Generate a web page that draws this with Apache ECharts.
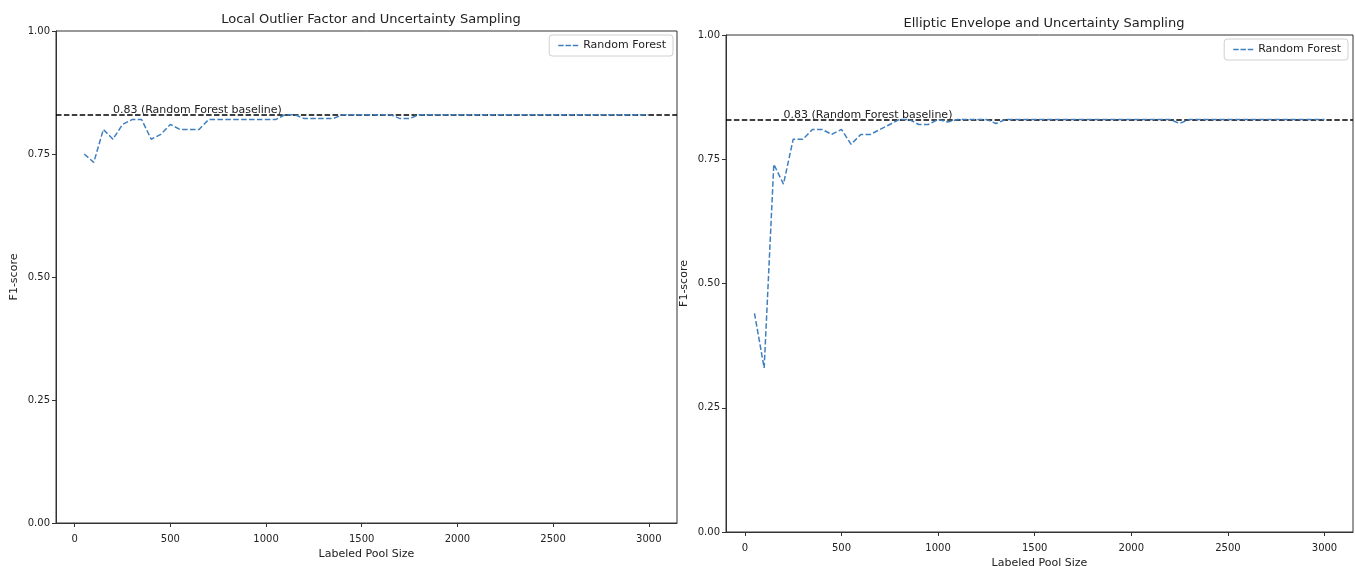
<!DOCTYPE html>
<html>
<head>
<meta charset="utf-8">
<script src="https://cdn.jsdelivr.net/npm/echarts@6/dist/echarts.min.js"></script>
<style>
  html, body { margin: 0; padding: 0; background: #fff; }
  #chart { width: 1355px; height: 566px; }
</style>
</head>
<body>
<div id="chart"></div>
<script>
    // labeled pool sizes (x values)
    let poolSizes = [50, 100, 150, 200, 250, 300, 350, 400, 450, 500,
        550, 600, 650, 700, 750, 800, 850, 900, 950, 1000,
        1050, 1100, 1150, 1200, 1250, 1300, 1350, 1400, 1450, 1500,
        1550, 1600, 1650, 1700, 1750, 1800, 1850, 1900, 1950, 2000,
        2050, 2100, 2150, 2200, 2250, 2300, 2350, 2400, 2450, 2500,
        2550, 2600, 2650, 2700, 2750, 2800, 2850, 2900, 2950, 3000]

    // Local Outlier Factor + uncertainty sampling
    let lofScores = [0.75, 0.733, 0.80, 0.78, 0.81, 0.82, 0.82, 0.78, 0.79, 0.81,
        0.80, 0.80, 0.80, 0.82, 0.82, 0.82, 0.82, 0.82, 0.82, 0.82,
        0.82, 0.83, 0.83, 0.822, 0.822, 0.822, 0.822, 0.83, 0.83, 0.83,
        0.83, 0.83, 0.83, 0.822, 0.822, 0.83, 0.83, 0.83, 0.83, 0.83,
        0.83, 0.83, 0.83, 0.83, 0.83, 0.83, 0.83, 0.83, 0.83, 0.83,
        0.83, 0.83, 0.83, 0.83, 0.83, 0.83, 0.83, 0.83, 0.83, 0.83]

    // Elliptic Envelope + uncertainty sampling
    let eeScores = [0.44, 0.33, 0.74, 0.70, 0.79, 0.79, 0.81, 0.81, 0.80, 0.81,
        0.78, 0.80, 0.80, 0.81, 0.82, 0.83, 0.83, 0.82, 0.82, 0.83,
        0.825, 0.83, 0.83, 0.83, 0.83, 0.822, 0.83, 0.83, 0.83, 0.83,
        0.83, 0.83, 0.83, 0.83, 0.83, 0.83, 0.83, 0.83, 0.83, 0.83,
        0.83, 0.83, 0.83, 0.83, 0.822, 0.83, 0.83, 0.83, 0.83, 0.83,
        0.83, 0.83, 0.83, 0.83, 0.83, 0.83, 0.83, 0.83, 0.83, 0.83]

    let xTicks = [0, 500, 1000, 1500, 2000, 2500, 3000]
    let yTicks = [0, 0.25, 0.5, 0.75, 1]
    let baseline = 0.83
    let baselineLabelX = 200

    let chart = echarts.init(document.getElementById('chart'))
    let font = 'DejaVu Sans'
    let lineColor = '#3f7fbf'
    let dash = [5.5, 2.4]

    function pairs(ys){
        return poolSizes.map(function(x, i){ return [x, ys[i]] })
    }

    function xAxisFor(idx){
        return {
            type: 'value',
            gridIndex: idx,
            min: -97.5,
            max: 3147.5,
            name: 'Labeled Pool Size',
            nameLocation: 'middle',
            nameGap: 22,
            nameTextStyle: { fontFamily: font, fontSize: 11, color: '#222' },
            axisLine: { onZero: false, lineStyle: { color: '#333', width: 1 } },
            axisTick: { show: true, length: 4, customValues: xTicks, lineStyle: { color: '#333' } },
            axisLabel: {
                customValues: xTicks, fontFamily: font, fontSize: 10, color: '#222', margin: 11,
                formatter: function(v){ return String(v) }
            },
            splitLine: { show: false }
        }
    }

    function yAxisFor(idx){
        return {
            type: 'value',
            gridIndex: idx,
            min: 0,
            max: 1,
            name: 'F1-score',
            nameLocation: 'middle',
            nameRotate: 90,
            nameGap: 36,
            nameTextStyle: { fontFamily: font, fontSize: 11, color: '#222' },
            axisLine: { show: true, onZero: false, lineStyle: { color: '#333', width: 1 } },
            axisTick: { show: true, length: 4, customValues: yTicks, lineStyle: { color: '#333' } },
            axisLabel: {
                customValues: yTicks,
                fontFamily: font, fontSize: 10, color: '#222', margin: 6,
                formatter: function(v){ return v.toFixed(2) }
            },
            splitLine: { show: false }
        }
    }

    function seriesFor(idx, ys){
        return {
            name: 'Random Forest',
            type: 'line',
            xAxisIndex: idx,
            yAxisIndex: idx,
            data: pairs(ys),
            symbol: 'none',
            z: 3,
            lineStyle: { color: lineColor, width: 1.5, type: dash },
            itemStyle: { color: lineColor },
            silent: true,
            markLine: {
                silent: true,
                symbol: 'none',
                z: 2,
                label: { show: false },
                lineStyle: { color: '#000', width: 1.5, type: dash },
                data: [{ yAxis: baseline }]
            },
            markPoint: {
                silent: true,
                symbolSize: 0,
                data: [{
                    coord: [baselineLabelX, baseline],
                    label: {
                        show: true,
                        formatter: '0.83 (Random Forest baseline)',
                        position: [0, 1],
                        align: 'left',
                        verticalAlign: 'bottom',
                        fontFamily: font,
                        fontSize: 11,
                        color: '#222'
                    }
                }]
            }
        }
    }

    function legendFor(right, top){
        return {
            data: [{ name: 'Random Forest' }],
            right: right,
            top: top,
            orient: 'vertical',
            icon: 'path://M0,0h6v1.5h-6z M8,0h6v1.5h-6z M16,0h6v1.5h-6z',
            borderColor: '#d0d0d0',
            borderWidth: 1,
            borderRadius: 3,
            padding: [5, 7, 5, 9],
            itemWidth: 20,
            itemHeight: 2,
            itemGap: 4,
            selectedMode: false,
            textStyle: { fontFamily: font, fontSize: 11, color: '#222' }
        }
    }

    let option = {
        animation: false,
        backgroundColor: '#fff',
        title: [
            { text: 'Local Outlier Factor and Uncertainty Sampling', left: 366, top: 8, textAlign: 'center',
              textStyle: { fontFamily: font, fontSize: 13, fontWeight: 'normal', color: '#222' } },
            { text: 'Elliptic Envelope and Uncertainty Sampling', left: 1039, top: 12, textAlign: 'center',
              textStyle: { fontFamily: font, fontSize: 13, fontWeight: 'normal', color: '#222' } }
        ],
        legend: [legendFor(682, 35), legendFor(7, 39)],
        grid: [
            { left: 56, right: 678, top: 31, bottom: 43, show: true, borderColor: '#333', borderWidth: 1,
              containLabel: false, outerBoundsMode: 'none' },
            { left: 726, right: 2, top: 35, bottom: 34, show: true, borderColor: '#333', borderWidth: 1,
              containLabel: false, outerBoundsMode: 'none' }
        ],
        xAxis: [xAxisFor(0), xAxisFor(1)],
        yAxis: [yAxisFor(0), yAxisFor(1)],
        series: [seriesFor(0, lofScores), seriesFor(1, eeScores)]
    }

    chart.setOption(option)
    window.addEventListener('resize', function () {
        chart.resize()
    })
</script>
</body>
</html>
